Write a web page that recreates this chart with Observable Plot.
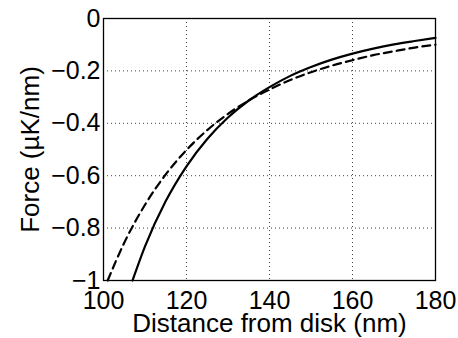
<!DOCTYPE html>
<html>
<head>
<meta charset="utf-8">
<script src="https://cdn.jsdelivr.net/npm/d3@7"></script>
<script src="https://cdn.jsdelivr.net/npm/@observablehq/plot@0.6"></script>
<style>
  html, body { margin: 0; padding: 0; background: #fff; }
  #chart { width: 458px; height: 338px; }
</style>
</head>
<body>
<div id="chart"></div>
<script>
// Solid curve (distance nm, force µK/nm)
const solidX = [107, 110, 115, 120, 125, 130, 135, 140, 145, 150, 155, 160, 165, 170, 175, 180];
const solidY = [-1.000, -0.870, -0.697, -0.564, -0.460, -0.378, -0.313, -0.262, -0.219, -0.185, -0.157, -0.134, -0.115, -0.099, -0.086, -0.074];
// Dashed curve
const dashX = [101, 105, 110, 115, 120, 125, 130, 135, 140, 145, 150, 155, 160, 165, 170, 175, 180];
const dashY = [-1.000, -0.856, -0.711, -0.595, -0.502, -0.426, -0.364, -0.313, -0.271, -0.235, -0.205, -0.180, -0.159, -0.140, -0.125, -0.111, -0.100];
// Ticks
const xTicks = [100, 120, 140, 160, 180];
const yTicks = [0, -0.2, -0.4, -0.6, -0.8, -1];
const xLabel = "Distance from disk (nm)";
const yLabel = "Force (\u00b5K/nm)";

const solid = solidX.map((x, i) => ({x, y: solidY[i]}));
const dashed = dashX.map((x, i) => ({x, y: dashY[i]}));

const fmtY = d => d === 0 ? "0" : "\u2212" + String(Math.abs(d));

const chart = Plot.plot({
  width: 458,
  height: 338,
  marginLeft: 103,
  marginRight: 23,
  marginTop: 18,
  marginBottom: 58,
  style: {fontFamily: "'Liberation Sans', Arial, sans-serif", fontSize: "25px", color: "#000", background: "#fff"},
  x: {domain: [100, 180]},
  y: {domain: [-1, 0]},
  marks: [
    Plot.ruleX(xTicks.slice(1, -1), {stroke: "#444", strokeWidth: 1, strokeDasharray: "1,3"}),
    Plot.ruleY(yTicks.slice(1, -1), {stroke: "#444", strokeWidth: 1, strokeDasharray: "1,3"}),
    Plot.frame({stroke: "#000", strokeWidth: 1.3}),
    Plot.text(xTicks, {x: d => d, text: d => String(d), frameAnchor: "bottom", lineAnchor: "top",
      dy: 11, fontSize: 25, fill: "#000"}),
    Plot.text(yTicks, {y: d => d, text: fmtY, frameAnchor: "left", textAnchor: "end",
      dx: -3, fontSize: 25, fill: "#000"}),
    Plot.axisX({ticks: [], fontSize: 26,
      label: xLabel, labelAnchor: "center", labelArrow: "none", labelOffset: 51}),
    Plot.axisY({ticks: [], fontSize: 26,
      label: yLabel, labelAnchor: "center", labelArrow: "none", labelOffset: 83}),
    Plot.line(dashed, {x: "x", y: "y", stroke: "#000", strokeWidth: 2.2, strokeDasharray: "8,5", curve: "monotone-x"}),
    Plot.line(solid, {x: "x", y: "y", stroke: "#000", strokeWidth: 2.2, curve: "monotone-x"})
  ]
});
document.getElementById("chart").appendChild(chart);
</script>
</body>
</html>
